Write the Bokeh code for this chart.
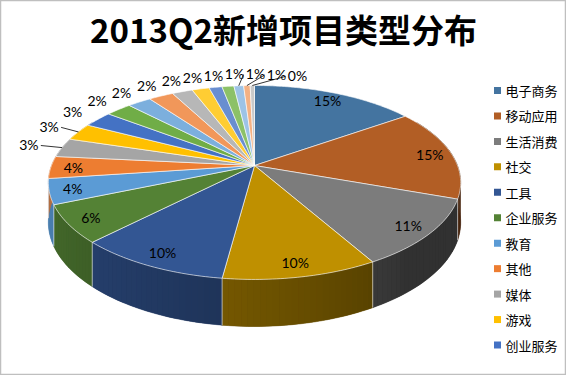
import numpy as np
from bokeh.plotting import figure
from bokeh.models import Range1d, ColumnDataSource
from bokeh.core.properties import value
from bokeh.embed import file_html
from bokeh.resources import INLINE

# ---------------- data ----------------
title = "2013Q2新增项目类型分布"
legend_categories = ["电子商务", "移动应用", "生活消费", "社交", "工具", "企业服务",
                     "教育", "其他", "媒体", "游戏", "创业服务"]
# share of each slice (%), clockwise from 12 o'clock; the last 10 slices have no legend entry
values = [15.2, 15.2, 11.3, 10.3, 10.2, 6.3, 4.2, 3.7, 3.2, 2.9, 2.7,
          2.4, 2.2, 2.3, 1.9, 1.6, 1.2, 1.1, 0.9, 0.6, 0.4]
colors = ["#4474A0", "#B25E25", "#7C7C7C", "#BF9000", "#335693", "#548235",
          "#5B9BD5", "#ED7D31", "#A5A5A5", "#FFC000", "#4472C4", "#70AD47",
          "#7CAFDD", "#F1975A", "#B7B7B7", "#FFCD33", "#698ED0", "#8CC168",
          "#9DC3E6", "#F4B183", "#C9C9C9"]

# ---------------- geometry (3D perspective pie) ----------------
cx, cy = 262.0, 173.0      # apex on screen
A, K, d, D = 203.0, 94.0, 0.175, 47.0


def proj(theta, r=1.0, depth=0.0):
    t = np.radians(theta)
    u = r * np.sin(t)
    v = r * np.cos(t)
    s = 1.0 / (1.0 + d * v)
    return cx + A * u * s, cy - K * v * s + depth * (1 - d) * s


def shade(hexcol, f):
    h = hexcol.lstrip("#")
    rgb = [int(h[i:i + 2], 16) for i in (0, 2, 4)]
    return "#%02x%02x%02x" % tuple(int(max(0, min(255, c * f))) for c in rgb)


def side_factor(theta):
    t = np.clip((theta - 140.0) / 130.0, 0, 1) ** 0.8
    return 0.40 + 0.47 * t


vals = np.array(values, dtype=float)
frac = vals / vals.sum()
ends = 360.0 * np.cumsum(frac)
starts = np.concatenate([[0.0], ends[:-1]])
mids = (starts + ends) / 2
pct = np.round(frac * 100).astype(int)
labels = [f"{p}%" for p in pct]

p = figure(width=566, height=375, x_range=Range1d(8, 574), y_range=Range1d(383, 8),
           output_backend="svg", toolbar_location=None, min_border=0,
           x_axis_type=None, y_axis_type=None)
p.grid.visible = False
p.outline_line_color = "#BFBFBF"
p.outline_line_width = 1.5
p.background_fill_color = "white"
p.border_fill_color = "white"

# sides: one base polygon per slice, then a gradient of thin strips on top
bxs, bys, bcs = [], [], []
sx, sy, sc = [], [], []
for i, (a0, a1) in enumerate(zip(starts, ends)):
    if a1 < 60 or a0 > 300:
        continue
    lo, hi = max(a0, 60.0), min(a1, 300.0)
    n = max(1, int(np.ceil((hi - lo) / 1.5)))
    th = np.linspace(lo, hi, n + 1)
    tx_, ty_ = proj(th)
    bx_, by_ = proj(th[::-1], depth=D)
    bxs.append(list(tx_) + list(bx_))
    bys.append(list(ty_) + list(by_))
    bcs.append(shade(colors[i], side_factor((lo + hi) / 2)))
    for j in range(n):
        ta, tb = th[j], th[j + 1]
        xa, ya = proj(ta)
        xb, yb = proj(tb)
        xa2, ya2 = proj(ta, depth=D)
        xb2, yb2 = proj(tb, depth=D)
        sx.append([xa, xb, xb2, xa2])
        sy.append([ya, yb, yb2, ya2])
        sc.append(shade(colors[i], side_factor((ta + tb) / 2)))
p.patches(xs="xs", ys="ys", fill_color="c", line_color="c", line_width=0.5,
          source=ColumnDataSource(dict(xs=bxs, ys=bys, c=bcs)))
p.patches(xs="xs", ys="ys", fill_color="c", line_color=None,
          source=ColumnDataSource(dict(xs=sx, ys=sy, c=sc)))

# boundaries on the side
bx, by = [], []
for b in ends[:-1]:
    if 95 < b < 265:
        x0, y0 = proj(b)
        x1, y1 = proj(b, depth=D)
        bx.append([x0, x1])
        by.append([y0, y1])
p.multi_line(xs=bx, ys=by, line_color="white", line_alpha=0.75, line_width=0.8)

# tops
tx, ty = [], []
for a0, a1 in zip(starts, ends):
    th = np.linspace(a0, a1, max(3, int((a1 - a0) / 1.0) + 2))
    px, py = proj(th)
    tx.append([cx] + list(px))
    ty.append([cy] + list(py))
p.patches(xs="xs", ys="ys", fill_color="c", line_color="white", line_alpha=0.8,
          line_width=0.75, source=ColumnDataSource(dict(xs=tx, ys=ty, c=colors)))

# ---------------- data labels ----------------
inside = pct >= 4
r_in, r_out = 0.89, 1.18
ix, iy = proj(mids[inside], r_in)
p.text(x=list(ix), y=list(iy), text=[l for l, k in zip(labels, inside) if k],
       text_align="center", text_baseline="middle", text_font=value("Lato"),
       text_font_size="14px", text_color="black")

out_idx = [i for i in range(len(vals)) if not inside[i]]
nat = {i: proj(mids[i], r_out) for i in out_idx}
lab_pos = dict(nat)
top_band = sorted([i for i in out_idx if nat[i][1] < 115], key=lambda i: nat[i][0])

# push crowded labels in the top band to the right
gap = 21.0
newx = []
for i in top_band:
    xn = nat[i][0]
    if newx:
        xn = max(xn, newx[-1] + gap)
    newx.append(xn)

grid = np.linspace(-85, 85, 1701)
gx, gy = proj(grid, r_out)
for i, xn in zip(top_band, newx):
    th = np.interp(xn, gx, grid)
    lab_pos[i] = proj(th, r_out)

lx, ly, lt = [], [], []
ldx, ldy = [], []
w = 20.0
for i in out_idx:
    X, Y = lab_pos[i]
    lx.append(X)
    ly.append(Y)
    lt.append(labels[i])
    Rx, Ry = proj(mids[i], 1.0)
    moved = abs(X - nat[i][0]) > 12
    far = np.hypot(X - Rx, Y - Ry) > 27
    if moved or far:
        if X > Rx + w / 2:
            ax_, ay_ = X - w / 2 - 2, Y + 1
        elif X < Rx - w / 2:
            ax_, ay_ = X + w / 2 + 2, Y + 1
        else:
            ax_, ay_ = X, Y + 7
        ldx.append([Rx, ax_])
        ldy.append([Ry, ay_])
if ldx:
    p.multi_line(xs=ldx, ys=ldy, line_color="black", line_width=0.8)
p.text(x=lx, y=ly, text=lt, text_align="center", text_baseline="middle",
       text_font=value("Lato"), text_font_size="14px", text_color="black")

# ---------------- legend ----------------
leg_y = [98.0 + 25.45 * k for k in range(len(legend_categories))]
p.rect(x=[505] * len(leg_y), y=leg_y, width=7, height=7,
       fill_color=colors[:len(legend_categories)], line_color=None)
p.text(x=[513] * len(leg_y), y=leg_y, text=legend_categories, text_align="left",
       text_baseline="middle", text_font=value("Noto Sans CJK SC"),
       text_font_size="13px", text_color="black")

# ---------------- title ----------------
p.text(x=[291], y=[36], text=[title], text_align="center", text_baseline="middle",
       text_font=value("Noto Sans CJK SC"), text_font_style="bold",
       text_font_size="33px", text_color="black")

open("out.html", "w").write(file_html(p, INLINE))
